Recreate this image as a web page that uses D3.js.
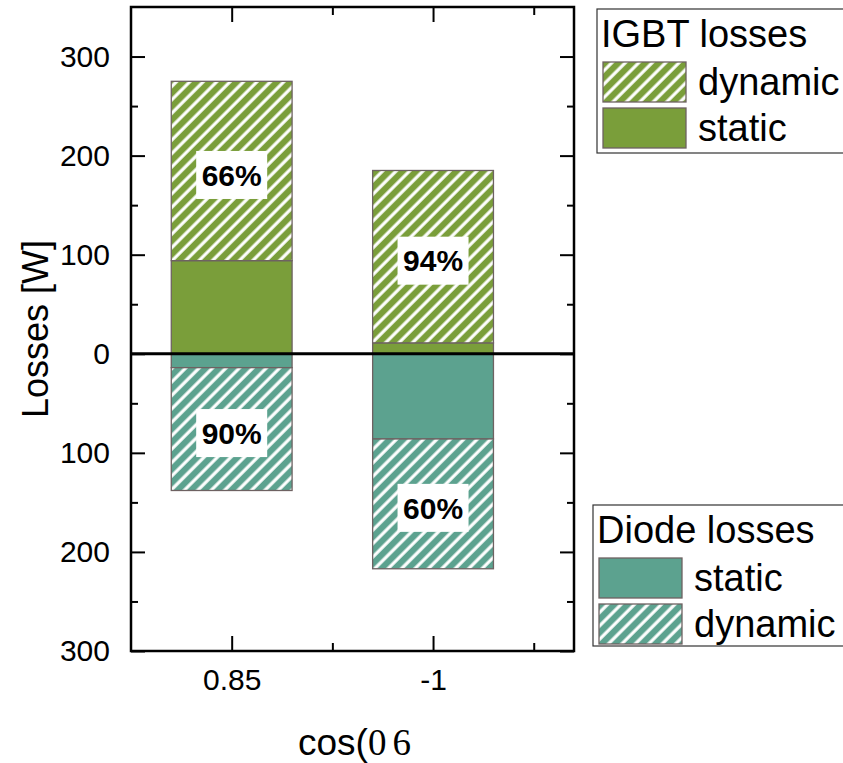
<!DOCTYPE html>
<html>
<head>
<meta charset="utf-8">
<script src="https://cdn.jsdelivr.net/npm/d3@7"></script>
<style>
  html, body { margin: 0; padding: 0; background: #fff; }
  svg { display: block; font-family: "Liberation Sans", Arial, sans-serif; }
</style>
</head>
<body>
<svg id="chart" width="843" height="763"></svg>
<script>
// Power-factor operating points on the x axis
const categories = ["0.85", "-1"];
// Loss components in watts for each operating point
const igbtStatic   = [94, 11];
const igbtDynamic  = [181, 174];
const diodeStatic  = [14, 86];
const diodeDynamic = [124, 131];
// Value-axis ticks (drawn as magnitudes on both sides of zero)
const majorTicks = [-300, -200, -100, 0, 100, 200, 300];
const minorTicks = [-250, -150, -50, 50, 150, 250];

const green = "#7a9e3a";
const teal  = "#5ca28f";
const edge  = "#6e6262";

const svg = d3.select("#chart");
const plotLeft = 131, plotRight = 574, plotTop = 7, plotBottom = 651;

const x = d3.scaleLinear().domain([0.5, 2.7]).range([plotLeft, plotRight]);
const y = d3.scaleLinear().domain([-300, 350]).range([plotBottom, plotTop]);
const barW = x(0.6) - x(0);

// Diagonal white hatching patterns
const defs = svg.append("defs");
function hatch(id, color) {
  const p = defs.append("pattern")
    .attr("id", id)
    .attr("patternUnits", "userSpaceOnUse")
    .attr("width", 9.5).attr("height", 9.5)
    .attr("patternTransform", "rotate(45)");
  p.append("rect").attr("width", 9.5).attr("height", 9.5).attr("fill", color);
  p.append("line").attr("x1", 2).attr("x2", 2).attr("y1", 0).attr("y2", 9.5)
    .attr("stroke", "#fff").attr("stroke-width", 3.2);
}
hatch("hatchGreen", green);
hatch("hatchTeal", teal);

// Stacked segments: IGBT above zero, diode below zero
const segments = [];
categories.forEach((c, i) => {
  const pos = i + 1;
  segments.push({ pos, y0: 0, y1: igbtStatic[i], fill: green });
  segments.push({ pos, y0: igbtStatic[i], y1: igbtStatic[i] + igbtDynamic[i], fill: "url(#hatchGreen)" });
  segments.push({ pos, y0: 0, y1: -diodeStatic[i], fill: teal });
  segments.push({ pos, y0: -diodeStatic[i], y1: -(diodeStatic[i] + diodeDynamic[i]), fill: "url(#hatchTeal)" });
});

svg.append("g").selectAll("rect").data(segments).join("rect")
  .attr("x", d => x(d.pos) - barW / 2)
  .attr("width", barW)
  .attr("y", d => y(Math.max(d.y0, d.y1)))
  .attr("height", d => Math.abs(y(d.y0) - y(d.y1)))
  .attr("fill", d => d.fill)
  .attr("stroke", edge)
  .attr("stroke-width", 1.3);

// Share of dynamic losses, labelled on the hatched segments
const labels = [];
categories.forEach((c, i) => {
  const pos = i + 1;
  const igbtTot = igbtStatic[i] + igbtDynamic[i];
  const diodeTot = diodeStatic[i] + diodeDynamic[i];
  labels.push({ pos, mid: igbtStatic[i] + igbtDynamic[i] / 2, text: Math.round(100 * igbtDynamic[i] / igbtTot) + "%" });
  labels.push({ pos, mid: -(diodeStatic[i] + diodeDynamic[i] / 2), text: Math.round(100 * diodeDynamic[i] / diodeTot) + "%" });
});
const lg = svg.append("g").selectAll("g").data(labels).join("g")
  .attr("transform", d => `translate(${x(d.pos)},${y(d.mid) + 4})`);
lg.append("rect").attr("x", -35.5).attr("y", -24).attr("width", 71).attr("height", 48).attr("fill", "#fff");
lg.append("text").attr("text-anchor", "middle").attr("dy", "0.36em")
  .attr("font-size", 30).attr("font-weight", "bold").attr("fill", "#000")
  .text(d => d.text);

// Zero line
svg.append("line").attr("x1", plotLeft).attr("x2", plotRight).attr("y1", y(0)).attr("y2", y(0))
  .attr("stroke", "#000").attr("stroke-width", 3);

// Frame with inward ticks on all four sides
const axisColor = "#000";
function styleAxis(g) {
  g.select(".domain").remove();
  g.attr("font-family", null);
  g.selectAll("line").attr("stroke", axisColor).attr("stroke-width", 2);
  g.selectAll("text").attr("font-size", 30).attr("fill", "#000");
}
const fmt = d => String(Math.abs(d));
svg.append("g").attr("transform", `translate(${plotLeft},0)`)
  .call(d3.axisLeft(y).tickValues(majorTicks).tickFormat(fmt).tickSizeInner(-14).tickPadding(21))
  .call(styleAxis);
svg.append("g").attr("transform", `translate(${plotLeft},0)`)
  .call(d3.axisLeft(y).tickValues(minorTicks).tickFormat("").tickSizeInner(-7))
  .call(styleAxis);
svg.append("g").attr("transform", `translate(${plotRight},0)`)
  .call(d3.axisRight(y).tickValues(majorTicks).tickFormat("").tickSizeInner(-14))
  .call(styleAxis);
svg.append("g").attr("transform", `translate(${plotRight},0)`)
  .call(d3.axisRight(y).tickValues(minorTicks).tickFormat("").tickSizeInner(-7))
  .call(styleAxis);

const xMajor = categories.map((c, i) => i + 1);
const xMinor = [1.5, 2.5];
svg.append("g").attr("transform", `translate(0,${plotBottom})`)
  .call(d3.axisBottom(x).tickValues(xMajor).tickFormat(d => categories[d - 1]).tickSizeInner(-15).tickPadding(18))
  .call(styleAxis);
svg.append("g").attr("transform", `translate(0,${plotBottom})`)
  .call(d3.axisBottom(x).tickValues(xMinor).tickFormat("").tickSizeInner(-8))
  .call(styleAxis);
svg.append("g").attr("transform", `translate(0,${plotTop})`)
  .call(d3.axisTop(x).tickValues(xMajor).tickFormat("").tickSizeInner(-15))
  .call(styleAxis);
svg.append("g").attr("transform", `translate(0,${plotTop})`)
  .call(d3.axisTop(x).tickValues(xMinor).tickFormat("").tickSizeInner(-8))
  .call(styleAxis);

svg.append("rect").attr("x", plotLeft).attr("y", plotTop)
  .attr("width", plotRight - plotLeft).attr("height", plotBottom - plotTop)
  .attr("fill", "none").attr("stroke", axisColor).attr("stroke-width", 2.5);

// Axis titles
svg.append("text")
  .attr("transform", `translate(48,${(plotTop + plotBottom) / 2}) rotate(-90)`)
  .attr("text-anchor", "middle").attr("font-size", 36).attr("fill", "#000")
  .text("Losses [W]");
const xt = svg.append("text").attr("x", 298).attr("y", 755)
  .attr("font-size", 37).attr("fill", "#000");
xt.append("tspan").text("cos(");
xt.append("tspan").attr("font-family", "'Liberation Serif', 'Times New Roman', serif")
  .attr("letter-spacing", 6).text("06");

// Legends
function legend(x0, y0, h, title, items) {
  const g = svg.append("g");
  g.append("rect").attr("x", x0).attr("y", y0).attr("width", 860 - x0).attr("height", h)
    .attr("fill", "#fff").attr("stroke", "#333").attr("stroke-width", 1.2);
  g.append("text").attr("x", x0 + 4).attr("y", y0 + 38).attr("font-size", 38).attr("fill", "#000").text(title);
  items.forEach((it, k) => {
    const sy = y0 + 53 + k * 46;
    g.append("rect").attr("x", x0 + 6).attr("y", sy).attr("width", 83).attr("height", 40)
      .attr("fill", it.fill).attr("stroke", edge).attr("stroke-width", 1.3);
    g.append("text").attr("x", x0 + 101).attr("y", sy + 33).attr("font-size", 38).attr("fill", "#000").text(it.label);
  });
}
legend(597, 9, 144, "IGBT losses", [
  { label: "dynamic", fill: "url(#hatchGreen)" },
  { label: "static", fill: green }
]);
legend(593, 505, 141, "Diode losses", [
  { label: "static", fill: teal },
  { label: "dynamic", fill: "url(#hatchTeal)" }
]);
</script>
</body>
</html>
